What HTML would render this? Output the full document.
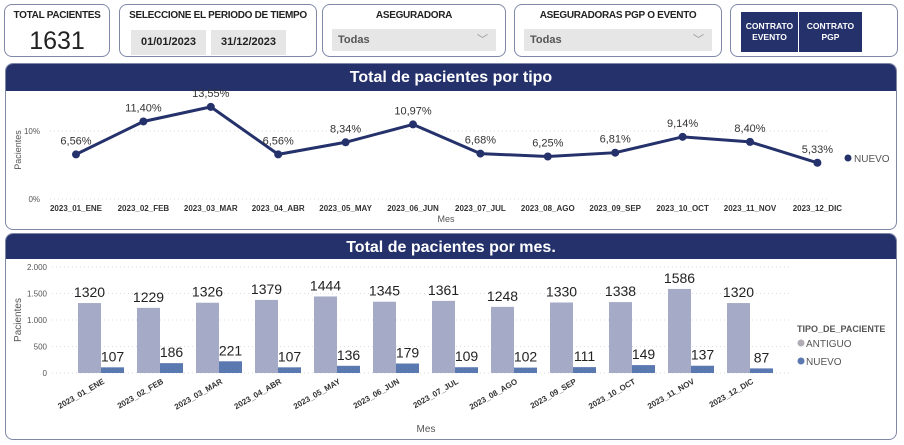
<!DOCTYPE html>
<html><head><meta charset="utf-8"><style>
body{margin:0;width:904px;height:445px;background:#fff;font-family:"Liberation Sans",sans-serif;overflow:hidden;position:relative}
.card{position:absolute;border:1px solid #8088a8;border-radius:8px;background:#fff;box-sizing:border-box}
.t{position:absolute;font-size:10px;font-weight:bold;color:#222;text-align:center;width:100%;letter-spacing:-0.3px}
.dd{position:absolute;background:#e6e6e6;font-size:11px;color:#555;font-weight:bold}
.btn{position:absolute;background:#25316b;color:#fff;font-size:8.5px;font-weight:bold;text-align:center;display:flex;align-items:center;justify-content:center;line-height:11px}
</style></head><body>
<div class="card" style="left:4px;top:4px;width:106px;height:53px">
 <div class="t" style="top:5px">TOTAL PACIENTES</div>
 <div style="position:absolute;top:22px;width:100%;text-align:center;font-size:25px;color:#222">1631</div>
</div>
<div class="card" style="left:119px;top:4px;width:198px;height:53px">
 <div class="t" style="top:5px">SELECCIONE EL PERIODO DE TIEMPO</div>
 <div class="dd" style="left:11px;top:25px;width:75px;height:25px;line-height:25px;text-align:center;color:#222">01/01/2023</div>
 <div class="dd" style="left:91px;top:25px;width:75px;height:25px;line-height:25px;text-align:center;color:#222">31/12/2023</div>
</div>
<div class="card" style="left:322px;top:4px;width:184px;height:53px">
 <div class="t" style="top:5px">ASEGURADORA</div>
 <div class="dd" style="left:9px;top:24px;width:164px;height:22px;line-height:22px;padding-left:6px;box-sizing:border-box">Todas<span style="position:absolute;right:8px;color:#999;font-weight:normal">﹀</span></div>
</div>
<div class="card" style="left:514px;top:4px;width:208px;height:53px">
 <div class="t" style="top:5px">ASEGURADORAS PGP O EVENTO</div>
 <div class="dd" style="left:9px;top:24px;width:188px;height:22px;line-height:22px;padding-left:6px;box-sizing:border-box">Todas<span style="position:absolute;right:8px;color:#999;font-weight:normal">﹀</span></div>
</div>
<div class="card" style="left:730px;top:4px;width:168px;height:53px">
 <div class="btn" style="left:10px;top:7px;width:57px;height:40px">CONTRATO<br>EVENTO</div>
 <div class="btn" style="left:68px;top:7px;width:63px;height:40px">CONTRATO<br>PGP</div>
</div>

<div class="card" style="left:5px;top:63px;width:892px;height:167px;overflow:hidden">
 <div style="height:27px;background:#25316b;color:#fff;font-weight:bold;font-size:16px;text-align:center;line-height:27px">Total de pacientes por tipo</div>
</div>
<div class="card" style="left:5px;top:233px;width:892px;height:207px;overflow:hidden">
 <div style="height:25px;background:#25316b;color:#fff;font-weight:bold;font-size:16px;text-align:center;line-height:27px">Total de pacientes por mes.</div>
</div>

<svg id="chart" width="904" height="445" style="position:absolute;left:0;top:0" font-family="Liberation Sans, sans-serif"></svg>
<script>
const months=["2023_01_ENE","2023_02_FEB","2023_03_MAR","2023_04_ABR","2023_05_MAY","2023_06_JUN","2023_07_JUL","2023_08_AGO","2023_09_SEP","2023_10_OCT","2023_11_NOV","2023_12_DIC"];
const nuevoPct=[6.56,11.40,13.55,6.56,8.34,10.97,6.68,6.25,6.81,9.14,8.40,5.33];
const antiguo=[1320,1229,1326,1379,1444,1345,1361,1248,1330,1338,1586,1320];
const nuevo=[107,186,221,107,136,179,109,102,111,149,137,87];
const pctTicks=[0,10];
const barTicks=[0,500,1000,1500,2000];
const tickLabels=["0","500","1.000","1.500","2.000"];

const svg=document.getElementById('chart');
const NS="http://www.w3.org/2000/svg";
function mk(tag,attrs,text){const e=document.createElementNS(NS,tag);for(const k in attrs)e.setAttribute(k,attrs[k]);if(text!==undefined)e.textContent=text;svg.appendChild(e);return e;}
// line chart axes
const lx=i=>76+i*67.4, ly=v=>199-v*6.8;
pctTicks.forEach(t=>{
 const g=mk('line',{x1:50,x2:830,y1:ly(t),y2:ly(t),stroke:'#ddd','stroke-dasharray':'1,3'});
 
 const l=mk('text',{x:40,y:ly(t)+3,'font-size':8,fill:'#555','text-anchor':'end'},t+'%');
 
});
let yt=mk('text',{x:21,y:150,'font-size':9,fill:'#555','text-anchor':'middle',transform:'rotate(-90 21 150)'},'Pacientes');

let xt=mk('text',{x:446,y:222,'font-size':9,fill:'#555','text-anchor':'middle'},'Mes');

months.forEach((m,i)=>{
 const e=mk('text',{x:lx(i),y:211,'font-size':8,'font-weight':'bold',fill:'#333','text-anchor':'middle'},m);
 
});
const pl=mk('polyline',{points:nuevoPct.map((v,i)=>lx(i)+','+ly(v)).join(' '),fill:'none',stroke:'#25316b','stroke-width':3});

nuevoPct.forEach((v,i)=>{
 const c=mk('circle',{cx:lx(i),cy:ly(v),r:4,fill:'#25316b'});
 
 const t=mk('text',{x:lx(i),y:ly(v)-10,'font-size':11,fill:'#333','text-anchor':'middle'},v.toFixed(2).replace('.',',')+'%');
 
});
let lc=mk('circle',{cx:848,cy:158,r:3.5,fill:'#25316b'});

let lt=mk('text',{x:854,y:162,'font-size':10,fill:'#555'},'NUEVO');


// bar chart
const bx=i=>101+i*59, by=v=>373-v*0.053, bw=23;
barTicks.forEach((t,k)=>{
 const g=mk('line',{x1:52,x2:790,y1:by(t),y2:by(t),stroke:'#ddd','stroke-dasharray':'1,3'});
 
 const l=mk('text',{x:47,y:by(t)+3,'font-size':8,fill:'#555','text-anchor':'end'},tickLabels[k]);
 
});
let yt2=mk('text',{x:21,y:320,'font-size':10,fill:'#555','text-anchor':'middle',transform:'rotate(-90 21 320)'},'Pacientes');

let xt2=mk('text',{x:426,y:432,'font-size':10,fill:'#555','text-anchor':'middle'},'Mes');

months.forEach((m,i)=>{
 const a=mk('rect',{x:bx(i)-bw,y:by(antiguo[i]),width:bw,height:373-by(antiguo[i]),fill:'#a5abc6'});
 
 const n=mk('rect',{x:bx(i),y:by(nuevo[i]),width:bw,height:373-by(nuevo[i]),fill:'#5b79b1'});
 
 const at=mk('text',{x:bx(i)-bw/2,y:by(antiguo[i])-6,'font-size':14,fill:'#222','text-anchor':'middle'},antiguo[i]);
 
 const nt=mk('text',{x:bx(i)+bw/2,y:by(nuevo[i])-6,'font-size':14,fill:'#222','text-anchor':'middle'},nuevo[i]);
 
 const xl=mk('text',{x:bx(i)+4,y:383,'font-size':8,'font-weight':'bold',fill:'#333','text-anchor':'end',transform:`rotate(-30 ${bx(i)+4} 383)`},m);
 
});
let lg=mk('text',{x:797,y:332,'font-size':9,'font-weight':'bold',fill:'#555'},'TIPO_DE_PACIENTE');

let c1=mk('circle',{cx:801,cy:343,r:3.5,fill:'#b0abb5'});

let t1=mk('text',{x:806,y:347,'font-size':10,fill:'#555'},'ANTIGUO');

let c2=mk('circle',{cx:801,cy:361,r:3.5,fill:'#5b79b1'});

let t2=mk('text',{x:806,y:365,'font-size':10,fill:'#555'},'NUEVO');

</script>
</body></html>
